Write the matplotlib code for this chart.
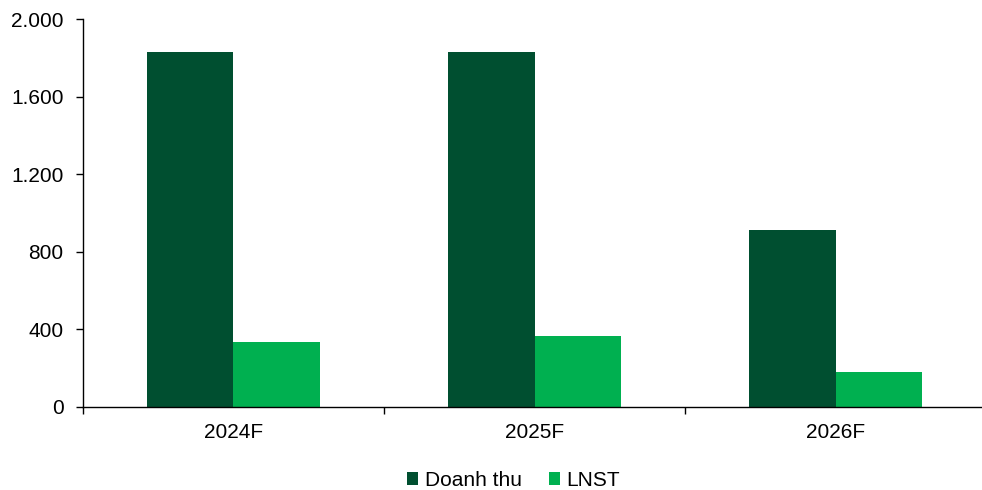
import matplotlib.pyplot as plt
import numpy as np
from matplotlib.ticker import FuncFormatter

# data
years = ["2024F", "2025F", "2026F"]
doanh_thu = [1830, 1830, 912]
lnst = [335, 366, 180]

plt.rcParams['font.family'] = ['Liberation Sans', 'DejaVu Sans']

fig = plt.figure(figsize=(9.82, 4.90), dpi=100)
ax = fig.add_axes([0.0845, 0.1694, 0.9196, 0.7918])

x = np.arange(len(years))
w = 0.287
ax.bar(x - w / 2, doanh_thu, w, color="#004F30", label="Doanh thu")
ax.bar(x + w / 2, lnst, w, color="#00B050", label="LNST")

ax.set_xlim(-0.5, 2.5)
ax.set_ylim(0, 2000)
ax.set_yticks(range(0, 2001, 400))
ax.yaxis.set_major_formatter(FuncFormatter(lambda v, p: f"{int(v):,}".replace(",", ".")))

# category labels centred, tick marks on the group boundaries
ax.set_xticks(x)
ax.set_xticklabels(years)
ax.tick_params(axis="x", which="major", length=0, pad=11.5, labelsize=15)
ax.set_xticks([-0.5, 0.5, 1.5, 2.5], minor=True)
ax.tick_params(axis="x", which="minor", length=5, width=1)
ax.tick_params(axis="y", length=5, width=1, labelsize=15, pad=9)

for s in ["top", "right"]:
    ax.spines[s].set_visible(False)
for s in ["left", "bottom"]:
    ax.spines[s].set_linewidth(1)

fig.legend(loc="center", bbox_to_anchor=(0.523, 0.02), ncol=2, frameon=False,
           fontsize=15, handlelength=0.55, handleheight=0.55, handletextpad=0.3,
           columnspacing=1.3)

fig.savefig("out.png", dpi=100)
